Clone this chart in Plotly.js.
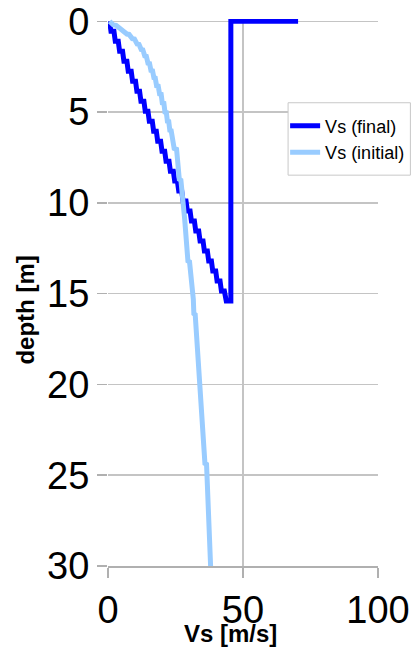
<!DOCTYPE html>
<html>
<head>
<meta charset="utf-8">
<script src="https://cdn.plot.ly/plotly-3.0.1.min.js"></script>
<style>
  html, body { margin: 0; padding: 0; background: #ffffff; }
  #chart { width: 415px; height: 647px; }
</style>
</head>
<body>
<div id="chart"></div>
<script>
// Final shear-wave velocity profile: sublayer boundaries [m], Vs at top and bottom of each sublayer [m/s]
const finalLayerDepth = [0, 0.55, 1.1, 1.65, 2.2, 2.75, 3.3, 3.85, 4.4, 4.95, 5.5, 6.05, 6.6, 7.15,
  7.7, 8.25, 8.8, 9.35, 9.9, 10.45, 11.0, 11.55, 12.1, 12.65, 13.2, 13.75, 14.3, 14.85, 15.4];
const finalVsTop = [0.6, 2.2, 3.8, 5.4, 7.0, 8.6, 10.2, 11.7, 13.3, 14.8, 16.4, 17.9, 19.5, 21.0,
  22.6, 24.2, 25.7, 27.3, 28.9, 30.4, 32.0, 33.6, 35.2, 36.8, 38.3, 39.9, 41.5, 43.1];
const finalVsBottom = [1.1, 2.7, 4.3, 5.9, 7.5, 9.1, 10.7, 12.2, 13.8, 15.3, 16.9, 18.4, 20.0, 21.5,
  23.1, 24.7, 26.2, 27.8, 29.4, 30.9, 32.5, 34.1, 35.7, 37.3, 38.8, 40.4, 42.0, 43.8];
// Half-space below the last layer, then the surface reference segment
const finalTailVs = [45.5, 45.5, 70.4];
const finalTailDepth = [15.4, 0, 0];

// Initial profile (polyline through the discretised starting model)
const initVs = [0.6, 2.0, 3.0, 4.6, 5.4, 7.0, 7.8, 9.0, 9.8, 10.8, 11.5, 12.3, 12.9, 13.6, 14.2,
  14.8, 15.4, 15.9, 16.5, 17.0, 17.5, 18.0, 18.6, 19.1, 19.7, 20.1, 20.7, 21.1, 21.6, 22.0, 22.5,
  22.9, 23.4, 23.8, 24.2, 24.5, 25.4, 26.4, 27.0, 28.0, 28.4, 29.6, 30.2, 31.6, 31.8, 32.3,
  34.0, 34.4, 35.9, 36.5, 38.0];
const initDepth = [0, 0.2, 0.22, 0.45, 0.47, 0.7, 0.72, 0.95, 0.97, 1.25, 1.27, 1.55, 1.57, 1.9, 1.92,
  2.3, 2.32, 2.7, 2.72, 3.1, 3.12, 3.55, 3.57, 4.0, 4.02, 4.5, 4.52, 5.0, 5.02, 5.5, 5.52,
  6.0, 6.02, 6.5, 6.52, 7.0, 7.05, 8.7, 8.75, 10.85, 10.9, 13.2, 13.25, 15.3, 16.1, 16.15,
  20.0, 20.05, 24.35, 24.4, 30.0];

const xTicks = [0, 50, 100];
const yTicks = [0, 5, 10, 15, 20, 25, 30];

// Expand the layered model into a line: gradient inside each sublayer, jog at each boundary
const finalX = [], finalY = [];
for (let i = 0; i < finalVsTop.length; i++) {
  finalX.push(finalVsTop[i], finalVsBottom[i]);
  finalY.push(finalLayerDepth[i], finalLayerDepth[i + 1]);
}
finalX.push(...finalTailVs); finalY.push(...finalTailDepth);

const font = 'Liberation Sans, Arial, sans-serif';

const traces = [
  {
    x: finalX, y: finalY, type: 'scatter', mode: 'lines', name: 'Vs (final)',
    line: { color: '#0000ff', width: 5 }
  },
  {
    x: initVs, y: initDepth, type: 'scatter', mode: 'lines', name: 'Vs (initial)',
    line: { color: '#99ccff', width: 5 }
  }
];

const layout = {
  width: 415, height: 647,
  margin: { l: 108, r: 37, t: 19, b: 81, autoexpand: false },
  paper_bgcolor: '#ffffff', plot_bgcolor: '#ffffff',
  font: { family: font, color: '#000000' },
  showlegend: true,
  legend: {
    x: 0.656, xanchor: 'left', y: 0.838, yanchor: 'top',
    bgcolor: 'rgba(0,0,0,0)', borderwidth: 0,
    font: { family: font, size: 18, color: '#000000' }
  },
  // legend frame
  shapes: [
    {
      type: 'rect', xref: 'paper', yref: 'paper',
      x0: 0.667, x1: 1.12, y0: 0.7145, y1: 0.8469,
      fillcolor: '#ffffff', line: { color: '#c8c8c8', width: 1 }, layer: 'above'
    }
  ],
  xaxis: {
    range: [0, 100], tickvals: xTicks, ticktext: xTicks.map(String),
    showgrid: true, gridcolor: '#c4c4c4', gridwidth: 1.5,
    zeroline: false, showline: true, linecolor: '#b0b0b0', linewidth: 1.5,
    ticks: 'outside', ticklen: 10, tickcolor: '#b0b0b0', tickwidth: 1.5,
    tickfont: { family: font, size: 38, color: '#000000' }
  },
  yaxis: {
    range: [30, -0.13], tickvals: yTicks, ticktext: yTicks.map(String),
    showgrid: true, gridcolor: '#c4c4c4', gridwidth: 1.5,
    zeroline: false, showline: false,
    ticks: 'outside', ticklen: 10, tickcolor: '#b0b0b0', tickwidth: 1.5,
    tickfont: { family: font, size: 38, color: '#000000' }
  },
  annotations: [
    {
      text: '<b>Vs [m/s]</b>', xref: 'paper', yref: 'paper',
      x: 0.4555, y: -0.1237, xanchor: 'center', yanchor: 'middle', showarrow: false,
      font: { family: font, size: 24, color: '#000000' }
    },
    {
      text: '<b>depth [m]</b>', xref: 'paper', yref: 'paper', textangle: -90,
      x: -0.309, y: 0.468, xanchor: 'center', yanchor: 'middle', showarrow: false,
      font: { family: font, size: 24, color: '#000000' }
    }
  ]
};

Plotly.newPlot('chart', traces, layout, { staticPlot: true, displayModeBar: false });
</script>
</body>
</html>
